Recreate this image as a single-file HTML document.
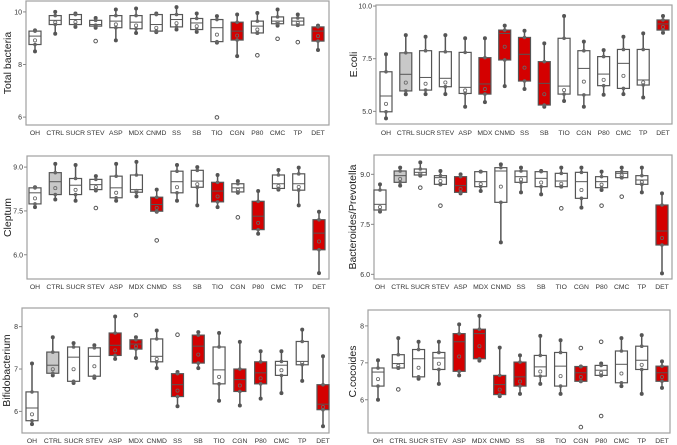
<!DOCTYPE html>
<html><head><meta charset="utf-8"><style>
html,body{margin:0;padding:0;background:#fff;}
svg{display:block;font-family:"Liberation Sans",sans-serif;}
</style></head><body>
<svg id="fig" width="677" height="445" viewBox="0 0 677 445" xmlns="http://www.w3.org/2000/svg"></svg>
<script>
const categories = ["OH","CTRL","SUCR","STEV","ASP","MDX","CNMD","SS","SB","TIO","CGN","P80","CMC","TP","DET"];
// [low whisker, q1, median, q3, high whisker]
const totalBacteriaStats = [[8.5,8.76,9.08,9.27,9.3],[9.17,9.52,9.68,9.86,10.0],[9.43,9.52,9.71,9.9,9.94],[9.4,9.46,9.52,9.68,9.77],[8.92,9.4,9.65,9.86,10.09],[9.2,9.36,9.61,9.86,10.13],[9.23,9.27,9.52,9.9,9.94],[9.33,9.43,9.71,9.9,10.18],[9.24,9.33,9.58,9.75,9.94],[8.83,8.87,9.4,9.71,9.84],[8.32,8.93,9.27,9.61,9.9],[9.2,9.2,9.46,9.65,9.96],[9.48,9.55,9.65,9.81,10.09],[9.5,9.5,9.65,9.77,9.9],[8.55,8.89,9.27,9.43,9.48]];
const totalBacteriaOutliers = [[],[],[],[8.89],[],[],[],[],[],[5.99],[],[8.35],[8.98],[8.85],[]];
const totalBacteriaFill = ["w","w","w","w","w","w","w","w","w","w","r","w","w","w","r"];
const ecoliStats = [[4.67,4.98,5.73,6.88,7.71],[5.81,5.97,6.76,7.78,8.62],[5.82,6.01,6.61,7.88,8.54],[5.82,6.17,6.57,7.83,8.62],[5.22,5.85,6.14,7.8,8.47],[5.44,5.82,6.3,7.55,8.47],[6.2,7.44,8.7,8.86,9.07],[6.06,6.44,7.71,8.51,8.83],[5.22,5.3,6.33,7.36,8.23],[5.49,5.82,6.2,8.47,9.53],[5.22,5.78,7.04,7.88,8.31],[5.79,6.22,6.77,7.6,7.91],[5.82,6.09,7.28,7.94,8.54],[5.66,6.25,6.49,7.94,8.7],[8.73,8.86,9.15,9.34,9.53]];
const ecoliOutliers = [[],[],[],[],[],[],[],[],[],[],[],[],[],[],[]];
const ecoliFill = ["w","g","w","w","w","r","r","r","r","w","w","w","w","w","r"];
const cleptumStats = [[7.63,7.74,8.12,8.29,8.31],[7.89,8.06,8.5,8.81,9.11],[7.85,8.06,8.38,8.61,9.07],[8.2,8.23,8.4,8.58,8.69],[7.85,7.95,8.29,8.69,9.11],[8.0,8.14,8.23,8.73,9.18],[7.47,7.49,7.72,7.97,8.23],[7.85,8.12,8.5,8.86,9.07],[7.69,8.31,8.52,8.89,9.0],[7.63,7.81,8.18,8.48,8.73],[8.12,8.15,8.29,8.43,8.52],[6.72,6.86,7.32,7.83,8.18],[8.23,8.27,8.43,8.73,8.9],[7.69,8.21,8.43,8.77,8.98],[5.37,6.17,6.74,7.2,7.47]];
const cleptumOutliers = [[],[],[],[7.6],[],[],[6.49],[],[],[],[7.28],[],[],[],[]];
const cleptumFill = ["w","g","w","w","w","w","r","w","w","r","w","r","w","w","r"];
const bactStats = [[7.88,7.93,8.1,8.53,8.7],[8.66,8.76,8.96,9.1,9.2],[8.96,8.98,9.06,9.16,9.36],[8.7,8.7,8.9,8.96,9.1],[8.43,8.46,8.66,8.93,9.0],[8.5,8.63,8.78,9.08,9.08],[6.96,8.16,9.1,9.2,9.3],[8.46,8.76,8.93,9.1,9.2],[8.4,8.63,8.88,9.08,9.1],[8.63,8.63,8.8,9.03,9.2],[8.0,8.28,8.78,9.06,9.2],[8.53,8.6,8.78,8.93,9.08],[8.9,8.9,9.03,9.08,9.2],[8.46,8.7,8.83,8.96,9.2],[6.03,6.88,7.3,8.08,8.43]];
const bactOutliers = [[],[],[8.6],[8.06],[],[],[],[],[],[7.98],[],[8.06],[8.33],[],[]];
const bactFill = ["w","g","w","w","r","w","w","w","w","w","w","w","w","w","r"];
const bifidoStats = [[5.7,5.78,6.08,6.46,7.13],[6.85,6.9,7.09,7.4,7.75],[6.67,6.71,7.28,7.52,7.61],[6.79,6.83,7.3,7.5,7.56],[7.24,7.32,7.56,7.85,8.24],[7.26,7.47,7.59,7.69,7.75],[7.02,7.17,7.3,7.71,7.91],[6.12,6.35,6.63,6.89,6.93],[7.02,7.14,7.54,7.8,7.87],[6.25,6.65,6.98,7.52,7.85],[6.14,6.47,6.75,7.0,7.64],[6.3,6.65,6.91,7.17,7.42],[6.43,6.85,7.09,7.18,7.42],[6.72,7.1,7.18,7.65,7.93],[5.65,6.04,6.17,6.63,7.3]];
const bifidoOutliers = [[],[],[],[],[],[8.27],[],[7.81],[],[],[],[],[],[],[]];
const bifidoFill = ["w","g","w","w","r","r","w","r","r","w","r","r","w","w","r"];
const coccStats = [[6.0,6.37,6.75,6.86,7.07],[6.86,6.86,6.98,7.22,7.67],[6.57,6.62,7.11,7.36,7.57],[6.43,6.82,7.13,7.28,7.57],[6.66,6.77,7.57,7.79,8.04],[7.06,7.11,7.79,7.91,8.27],[6.1,6.14,6.41,6.66,7.41],[6.16,6.37,6.62,7.02,7.2],[6.43,6.64,6.89,7.2,7.73],[6.16,6.37,6.91,7.28,7.61],[6.5,6.5,6.73,6.9,6.9],[6.66,6.66,6.8,6.93,6.98],[6.37,6.46,6.96,7.32,7.67],[6.16,6.82,7.07,7.45,7.75],[6.32,6.5,6.73,6.91,7.04]];
const coccOutliers = [[],[6.28],[],[],[],[],[],[],[],[],[7.4,5.26],[7.57,5.56],[],[],[]];
const coccFill = ["w","w","w","w","r","r","r","r","w","w","r","w","w","w","r"];
const yTicks1 = [6,8,10], yTickLabels1 = ["6","8","10"];
const yTicks2 = [5,7.5,10], yTickLabels2 = ["5.0","7.5","10.0"];
const yTicks3 = [6,7.5,9], yTickLabels3 = ["6.0","7.5","9.0"];
const yTicks4 = [6,7.5,9], yTickLabels4 = ["6.0","7.5","9.0"];
const yTicks5 = [6,7,8], yTickLabels5 = ["6","7","8"];
const yTicks6 = [6,7,8], yTickLabels6 = ["6","7","8"];

const panels = [
 {name:"total-bacteria",title:"Total bacteria",stats:totalBacteriaStats,out:totalBacteriaOutliers,fill:totalBacteriaFill,ticks:yTicks1,tl:yTickLabels1,fx0:26,fx1:329,fy0:1,fy1:125,lo:5.70,hi:10.415,cx0:35,cx1:318,ty:135,tx:7},
 {name:"ecoli",title:"E.coli",stats:ecoliStats,out:ecoliOutliers,fill:ecoliFill,ticks:yTicks2,tl:yTickLabels2,fx0:376,fx1:672,fy0:5,fy1:124,lo:4.40,hi:10.05,cx0:386,cx1:663,ty:135,tx:353},
 {name:"cleptum",title:"Cleptum",stats:cleptumStats,out:cleptumOutliers,fill:cleptumFill,ticks:yTicks3,tl:yTickLabels3,fx0:27,fx1:329,fy0:156,fy1:279,lo:5.17,hi:9.38,cx0:35,cx1:319,ty:289,tx:7},
 {name:"bacteroides-prevotella",title:"Bacteroides/Prevotella",stats:bactStats,out:bactOutliers,fill:bactFill,ticks:yTicks4,tl:yTickLabels4,fx0:374,fx1:672,fy0:155,fy1:279,lo:5.86,hi:9.58,cx0:380,cx1:662,ty:289,tx:352},
 {name:"bifidobacterium",title:"Bifidobacterium",stats:bifidoStats,out:bifidoOutliers,fill:bifidoFill,ticks:yTicks5,tl:yTickLabels5,fx0:22,fx1:329,fy0:308,fy1:433,lo:5.49,hi:8.44,cx0:32,cx1:323,ty:443,tx:6},
 {name:"ccoccoides",title:"C.cocoides",stats:coccStats,out:coccOutliers,fill:coccFill,ticks:yTicks6,tl:yTickLabels6,fx0:368,fx1:670,fy0:310,fy1:433,lo:5.10,hi:8.43,cx0:378,cx1:662,ty:443,tx:352}
];
const NS="http://www.w3.org/2000/svg";
const svg=document.getElementById("fig");
function mk(tag,attrs,parent){const e=document.createElementNS(NS,tag);for(const k in attrs)e.setAttribute(k,attrs[k]);(parent||svg).appendChild(e);return e;}
const fillColor={w:"#ffffff",r:"#d40000",g:"#c8c8c8"};
panels.forEach(p=>{
  const g=mk("g",{});
  
  
  const y=v=>p.fy1-(v-p.lo)/(p.hi-p.lo)*(p.fy1-p.fy0);
  const x=i=>p.cx0+i*(p.cx1-p.cx0)/(categories.length-1);
  const fr=mk("rect",{x:p.fx0,y:p.fy0,width:p.fx1-p.fx0,height:p.fy1-p.fy0,fill:"none",stroke:"#a0a0a0","stroke-width":1.2},g);
  
  
  p.ticks.forEach((t,i)=>{
    mk("line",{x1:p.fx0-3,x2:p.fx0,y1:y(t),y2:y(t),stroke:"#888"},g);
    const tx=mk("text",{x:p.fx0-4,y:y(t)+2.5,"font-size":7,"text-anchor":"end",fill:"#333"},g);
    tx.textContent=p.tl[i];
    
    
  });
  const cy=(p.fy0+p.fy1)/2;
  const title=mk("text",{x:p.tx,y:cy,"font-size":10.5,"text-anchor":"middle",fill:"#222",transform:`rotate(-90 ${p.tx} ${cy})`,dy:4},g);
  title.textContent=p.title;
  
  
  categories.forEach((c,i)=>{
    const s=p.stats[i], cx=x(i), w=12;
    const bg=mk("g",{},g);
    
    
    mk("line",{x1:cx,x2:cx,y1:y(s[0]),y2:y(s[4]),stroke:"#555","stroke-width":1.5},bg);
    mk("rect",{x:cx-w/2,y:y(s[3]),width:w,height:Math.max(1,y(s[1])-y(s[3])),fill:fillColor[p.fill[i]],stroke:"#555","stroke-width":1.2},bg);
    mk("line",{x1:cx-w/2,x2:cx+w/2,y1:y(s[2]),y2:y(s[2]),stroke:"#555","stroke-width":1},bg);
    [s[0],s[4]].forEach(v=>mk("circle",{cx:cx,cy:y(v),r:2,fill:"#555"},bg));
    [s[1],s[3]].forEach(v=>mk("circle",{cx:cx,cy:y(v),r:1.8,fill:"#666"},bg));
    mk("circle",{cx:cx,cy:y((s[1]+s[2])/2),r:1.6,fill:"none",stroke:"#666","stroke-width":0.8},bg);
    p.out[i].forEach(v=>{
      const o=mk("circle",{cx:cx,cy:y(v),r:1.8,fill:"#fff",stroke:"#555","stroke-width":1},bg);
      
      
    });
    const lb=mk("text",{x:cx,y:p.ty,"font-size":6.8,"text-anchor":"middle",fill:"#333"},g);
    lb.textContent=c;
    
    
  });
});
</script>
</body></html>
